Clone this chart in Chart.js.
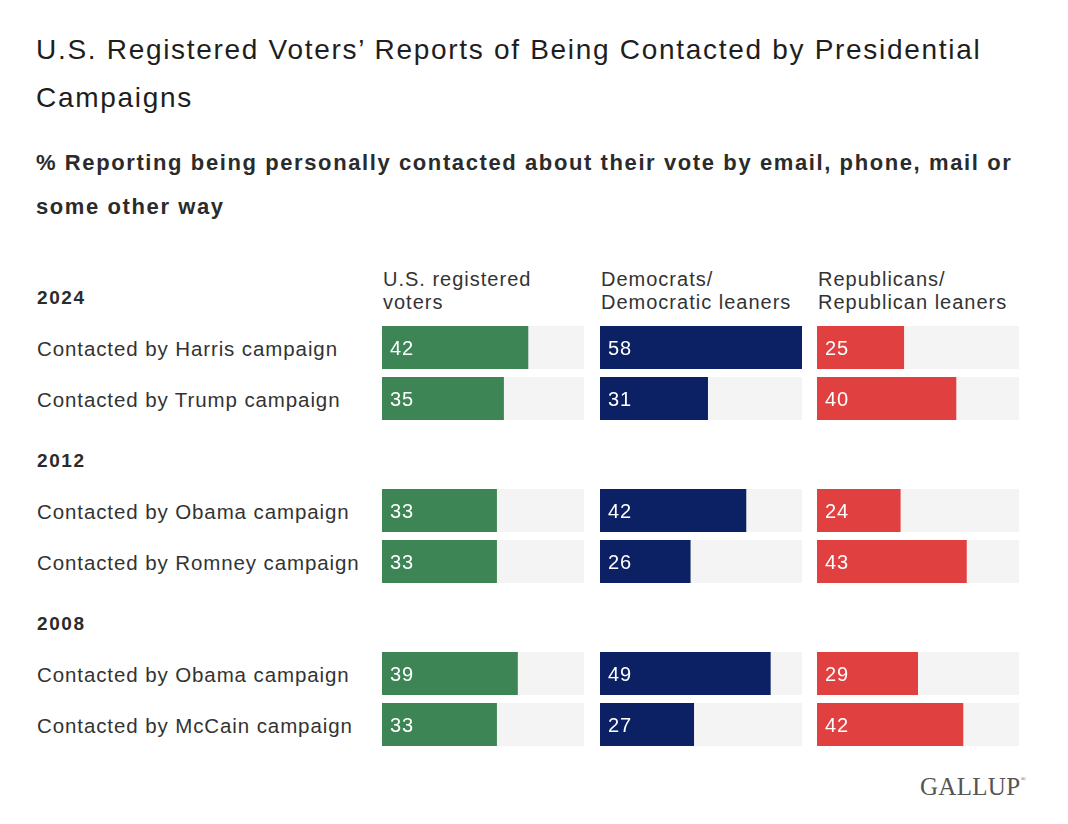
<!DOCTYPE html>
<html>
<head>
<meta charset="utf-8">
<script src="https://cdn.jsdelivr.net/npm/chart.js@4"></script>
<style>
  body { margin: 0; background: #fff; font-family: "Liberation Sans", Arial, sans-serif; color: #2b2b2b; }
  #page { position: relative; width: 1068px; height: 824px; overflow: hidden; }
  .title { position: absolute; left: 36px; top: 26px; width: 1010px; font-size: 28px; line-height: 48px; color: #1e1e1e; letter-spacing: 1.7px; }
  .subtitle { position: absolute; left: 36px; top: 141px; width: 1020px; font-size: 22px; line-height: 44px; font-weight: bold; color: #2b2b2b; letter-spacing: 1.6px; }
  .colhead { position: absolute; top: 268px; font-size: 20px; line-height: 23px; color: #333; letter-spacing: 1px; }
  .year { position: absolute; left: 37px; font-size: 19px; font-weight: bold; color: #2b2b2b; letter-spacing: 1.6px; }
  .rowlab { position: absolute; left: 37px; font-size: 20.5px; color: #333; letter-spacing: 0.9px; }
  .box { position: absolute; width: 202px; height: 102px; }
  .logo { position: absolute; left: 920px; top: 773px; font-family: "Liberation Serif", "DejaVu Serif", serif; font-size: 25px; color: #555; letter-spacing: 0.3px; }
  .logo sup { font-size: 7px; vertical-align: top; position: relative; top: 2px; }
</style>
</head>
<body>
<div id="page">
  <div class="title">U.S. Registered Voters’ Reports of Being Contacted by Presidential Campaigns</div>
  <div class="subtitle">% Reporting being personally contacted about their vote by email, phone, mail or some other way</div>
  <div class="logo">GALLUP<sup>®</sup></div>
</div>
<script>
// election years shown as row groups
const years = ['2024', '2012', '2008'];
// row labels, two per year
const rowLabels = [
  'Contacted by Harris campaign', 'Contacted by Trump campaign',
  'Contacted by Obama campaign', 'Contacted by Romney campaign',
  'Contacted by Obama campaign', 'Contacted by McCain campaign'
];
// panel (column) headers
const panelNames = [
  ['U.S. registered', 'voters'],
  ['Democrats/', 'Democratic leaners'],
  ['Republicans/', 'Republican leaners']
];
// values, % contacted
const registeredVoters = [42, 35, 33, 33, 39, 33];
const democrats = [58, 31, 42, 26, 49, 27];
const republicans = [25, 40, 24, 43, 29, 42];
const scaleMax = 58;

const panelValues = [registeredVoters, democrats, republicans];
const panelColors = ['#3e8556', '#0c2064', '#e0403f'];
const panelLeft = [382, 600, 817];
const groupTop = [322, 485, 648];

const page = document.getElementById('page');

panelNames.forEach((lines, p) => {
  const d = document.createElement('div');
  d.className = 'colhead';
  d.style.left = (panelLeft[p] + 1) + 'px';
  d.innerHTML = lines.join('<br>');
  page.appendChild(d);
});

// draws the number inside each bar
const valueLabels = {
  id: 'valueLabels',
  afterDatasetsDraw(chart) {
    const ctx = chart.ctx;
    const meta = chart.getDatasetMeta(0);
    ctx.save();
    ctx.fillStyle = '#fff';
    ctx.font = '20px "Liberation Sans", Arial, sans-serif';
    ctx.letterSpacing = '1px';
    ctx.textBaseline = 'middle';
    meta.data.forEach((bar, i) => {
      ctx.fillText(chart.data.datasets[0].data[i], bar.base + 8, bar.y + 2);
    });
    ctx.restore();
  }
};

years.forEach((year, g) => {
  const yh = document.createElement('div');
  yh.className = 'year';
  yh.textContent = year;
  yh.style.top = (groupTop[g] - 35) + 'px';
  page.appendChild(yh);

  for (let r = 0; r < 2; r++) {
    const lab = document.createElement('div');
    lab.className = 'rowlab';
    lab.textContent = rowLabels[g * 2 + r];
    lab.style.top = (groupTop[g] + 15 + r * 51) + 'px';
    page.appendChild(lab);
  }

  panelValues.forEach((vals, p) => {
    const box = document.createElement('div');
    box.className = 'box';
    box.style.left = panelLeft[p] + 'px';
    box.style.top = groupTop[g] + 'px';
    const cv = document.createElement('canvas');
    box.appendChild(cv);
    page.appendChild(box);

    const rows = rowLabels.slice(g * 2, g * 2 + 2);
    new Chart(cv, {
      type: 'bar',
      data: {
        labels: rows,
        datasets: [{
          data: vals.slice(g * 2, g * 2 + 2),
          backgroundColor: panelColors[p],
          grouped: false,
          order: 0,
          barPercentage: 43 / 51,
          categoryPercentage: 1
        }, {
          data: rows.map(() => scaleMax),
          backgroundColor: '#f4f4f4',
          grouped: false,
          order: 1,
          barPercentage: 43 / 51,
          categoryPercentage: 1
        }]
      },
      options: {
        indexAxis: 'y',
        responsive: true,
        maintainAspectRatio: false,
        animation: false,
        layout: { padding: 0 },
        scales: {
          x: { display: false, min: 0, max: scaleMax },
          y: { display: false }
        },
        plugins: {
          legend: { display: false },
          tooltip: { enabled: false }
        }
      },
      plugins: [valueLabels]
    });
  });
});
</script>
</body>
</html>
